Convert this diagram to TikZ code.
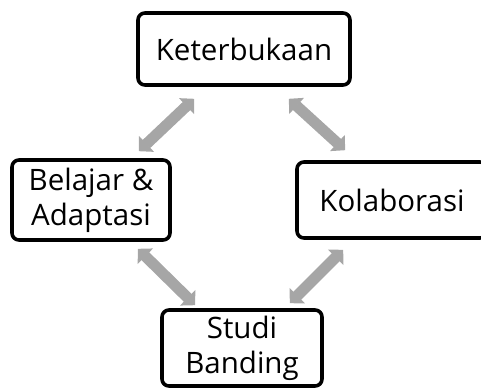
\documentclass[tikz,border=0pt]{standalone}
\usepackage{fontspec}
\setmainfont{Open Sans}
\usetikzlibrary{arrows.meta}
\definecolor{arrowgray}{RGB}{166,166,166}
\tikzset{
  box/.style={draw=black, line width=3.6pt, rounded corners=7pt, fill=white,
    align=center, inner sep=0pt, font=\fontsize{29.5}{35}\selectfont},
  link/.style={draw=arrowgray, line width=11pt,
    {Triangle[angle=90:15pt]}-{Triangle[angle=90:15pt]}}
}
\begin{document}
\begin{tikzpicture}[x=1pt, y=-1pt]
  \useasboundingbox (0,0) rectangle (481,388);

  \node[box, minimum width=212pt, minimum height=72pt] (ket) at (244,49) {Keterbukaan};
  \node[box, minimum width=158pt, minimum height=80pt] (bel) at (91,200) {Belajar \&\\Adaptasi};
  \node[box, minimum width=190pt, minimum height=76pt] (kol) at (392,200) {Kolaborasi};
  \node[box, minimum width=160pt, minimum height=76pt] (stu) at (242,348) {Studi\\Banding};

  \draw[link] ([xshift=-33pt,yshift=7pt]bel.north east) -- ([xshift=58pt,yshift=-12pt]ket.south west);
  \draw[link] ([xshift=-63pt,yshift=-12pt]ket.south east) -- ([xshift=50pt,yshift=10pt]kol.north west);
  \draw[link] ([xshift=-34pt,yshift=-7pt]bel.south east) -- ([xshift=35pt,yshift=3pt]stu.north west);
  \draw[link] ([xshift=48pt,yshift=-10pt]kol.south west) -- ([xshift=-34pt,yshift=5pt]stu.north east);
\end{tikzpicture}
\end{document}
